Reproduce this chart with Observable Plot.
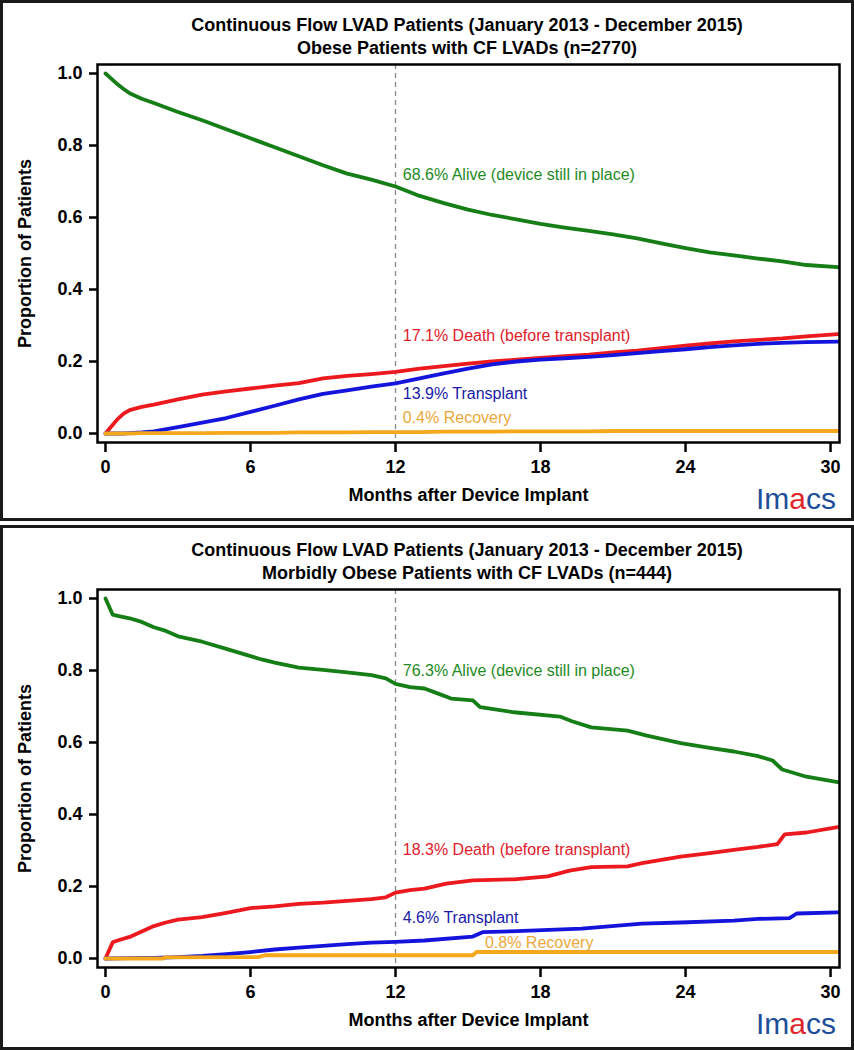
<!DOCTYPE html>
<html><head><meta charset="utf-8">
<script src="https://cdn.jsdelivr.net/npm/d3@7"></script>
<script src="https://cdn.jsdelivr.net/npm/@observablehq/plot@0.6"></script>
<style>
body{margin:0;background:#fff;font-family:"Liberation Sans",Arial,sans-serif;}
#page{position:relative;width:854px;height:1050px;overflow:hidden;background:#fff;}
.panel{position:absolute;left:0;width:854px;box-sizing:border-box;border:3px solid #1a1a1a;}
.title{position:absolute;left:0;width:934px;text-align:center;font-weight:bold;font-size:18px;line-height:23px;color:#000;}
.chart{position:absolute;left:0;}
.logo{position:absolute;right:18px;font-size:30px;line-height:30px;color:#1d4e9a;font-family:"Liberation Sans",Arial,sans-serif;}
.logo .a{color:#e0252b;}
</style>
</head><body>
<div id="page"></div>
<script>
// ---------- data ----------
const xTicks = [0, 6, 12, 18, 24, 30];
const yTicks = [0, 0.2, 0.4, 0.6, 0.8, 1.0];

// Panel 1: Obese patients (n=2770)
const obeseMonths = [0, 0.25, 0.5, 0.75, 1, 1.5, 2, 3, 4, 5, 6, 7, 8, 9, 10, 11, 12, 13, 14, 15, 16, 17, 18, 19, 20, 21, 22, 23, 24, 25, 26, 27, 28, 29, 30.3];
const obeseAlive = [1.0, 0.985, 0.97, 0.957, 0.945, 0.93, 0.918, 0.893, 0.87, 0.845, 0.82, 0.795, 0.77, 0.745, 0.722, 0.705, 0.686, 0.66, 0.64, 0.622, 0.607, 0.595, 0.582, 0.572, 0.563, 0.553, 0.542, 0.528, 0.515, 0.503, 0.495, 0.486, 0.478, 0.468, 0.462];
const obeseDeath = [0, 0.02, 0.04, 0.055, 0.065, 0.074, 0.08, 0.095, 0.108, 0.117, 0.125, 0.133, 0.14, 0.153, 0.16, 0.165, 0.171, 0.18, 0.187, 0.194, 0.2, 0.205, 0.21, 0.215, 0.219, 0.225, 0.23, 0.237, 0.244, 0.25, 0.256, 0.26, 0.264, 0.27, 0.276];
const obeseTransplant = [0, 0, 0, 0, 0.001, 0.003, 0.006, 0.018, 0.03, 0.043, 0.06, 0.077, 0.095, 0.11, 0.12, 0.13, 0.139, 0.153, 0.167, 0.18, 0.192, 0.2, 0.205, 0.209, 0.213, 0.218, 0.223, 0.229, 0.234, 0.24, 0.245, 0.249, 0.252, 0.254, 0.255];
const obeseRecovery = [0, 0, 0, 0, 0, 0.001, 0.001, 0.001, 0.001, 0.002, 0.002, 0.002, 0.003, 0.003, 0.003, 0.004, 0.004, 0.004, 0.005, 0.005, 0.005, 0.006, 0.006, 0.006, 0.006, 0.007, 0.007, 0.007, 0.007, 0.007, 0.007, 0.007, 0.007, 0.007, 0.007];
const obeseLabels = ["68.6% Alive (device still in place)", "17.1% Death (before transplant)", "13.9% Transplant", "0.4% Recovery"];
const obeseLabelY = [0.719, 0.272, 0.111, 0.044];
const obeseLabelX = [12.3, 12.3, 12.3, 12.3];

// Panel 2: Morbidly obese patients (n=444)
const morbidAliveMonths = [0, 0.3, 0.5, 1, 1.5, 2, 2.5, 3, 4, 5, 6, 6.5, 7, 8, 9, 10, 11, 11.6, 12, 12.6, 13.2, 13.6, 14.3, 15.2, 15.5, 16.9, 18.8, 19.3, 20.1, 21.6, 22.4, 23.8, 25, 26, 27, 27.6, 28, 29, 30.3];
const morbidAlive = [1.0, 0.955, 0.952, 0.945, 0.935, 0.92, 0.91, 0.895, 0.88, 0.86, 0.84, 0.83, 0.822, 0.808, 0.802, 0.795, 0.787, 0.778, 0.763, 0.754, 0.75, 0.74, 0.722, 0.717, 0.698, 0.684, 0.672, 0.659, 0.642, 0.633, 0.619, 0.598, 0.585, 0.575, 0.562, 0.55, 0.525, 0.505, 0.49];
const morbidDeathMonths = [0, 0.3, 0.5, 1, 1.5, 2, 2.5, 3, 4, 5, 6, 7, 8, 9, 10, 11, 11.6, 12, 12.6, 13.2, 14.1, 15.2, 16.9, 18.3, 19.2, 20.1, 21.6, 22.2, 23.8, 25, 26, 27, 27.8, 28.1, 29, 30.3];
const morbidDeath = [0, 0.045, 0.05, 0.06, 0.075, 0.09, 0.1, 0.108, 0.115, 0.127, 0.14, 0.145, 0.152, 0.155, 0.16, 0.165, 0.17, 0.183, 0.19, 0.194, 0.208, 0.217, 0.22, 0.228, 0.244, 0.254, 0.256, 0.265, 0.283, 0.293, 0.302, 0.31, 0.318, 0.345, 0.35, 0.365];
const morbidTransplantMonths = [0, 1, 2, 3, 4, 5, 6, 7, 8, 9, 10, 11, 12, 13.2, 15.2, 15.6, 17, 19.7, 22.2, 23.8, 26, 27, 28.3, 28.6, 30.3];
const morbidTransplant = [0, 0.001, 0.002, 0.004, 0.007, 0.012, 0.018, 0.025, 0.03, 0.035, 0.04, 0.044, 0.046, 0.05, 0.061, 0.073, 0.076, 0.083, 0.097, 0.1, 0.105, 0.11, 0.112, 0.125, 0.128];
const morbidRecoveryMonths = [0, 2.4, 2.45, 6.3, 6.6, 15.2, 15.35, 30.3];
const morbidRecovery = [0, 0, 0.003, 0.004, 0.009, 0.009, 0.018, 0.018];
const morbidLabels = ["76.3% Alive (device still in place)", "18.3% Death (before transplant)", "4.6% Transplant", "0.8% Recovery"];
const morbidLabelY = [0.80, 0.303, 0.114, 0.044];
const morbidLabelX = [12.3, 12.3, 12.3, 15.7];

const seriesColors = ["#167e16", "#ec1a1f", "#1414dc", "#f5a81c"];
const textColors = ["#1f8a1f", "#e0202a", "#1a1aa8", "#eba83a"];

// ---------- build ----------
function zip(ms, vs) { return ms.map((m, i) => ({m, v: vs[i]})); }

function makeChart(series, labels, labelX, labelY) {
  const notes = labels.map((t, i) => ({x: labelX[i], y: labelY[i], t, c: textColors[i]}));
  const lineMarks = series.map((s, i) => Plot.line(s, {x: "m", y: "v", stroke: seriesColors[i], strokeWidth: 3.8, strokeLinejoin: "round", clip: true}));
  return Plot.plot({
    width: 854, height: 465,
    marginTop: 8, marginLeft: 97, marginRight: 15, marginBottom: 79,
    style: {fontFamily: "Liberation Sans, Arial, sans-serif", background: "transparent", overflow: "visible", color: "#000"},
    x: {domain: [-0.33, 30.37]},
    y: {domain: [-0.025, 1.025]},
    marks: [
      Plot.ruleX([12], {stroke: "#8a8a8a", strokeWidth: 1.3, strokeDasharray: "5,4"}),
      ...lineMarks,
      Plot.text(notes, {x: "x", y: "y", text: "t", fill: "c", textAnchor: "start", fontSize: 16}),
      Plot.axisX({ticks: xTicks, tickSize: 10, tickPadding: 8, fontSize: 18, fontWeight: "bold", strokeWidth: 2.5, label: null, tickFormat: d => String(d)}),
      Plot.axisY({ticks: yTicks, tickSize: 8, tickPadding: 7, fontSize: 18, fontWeight: "bold", strokeWidth: 2.5, label: null, tickFormat: d3.format(".1f")}),
      Plot.frame({stroke: "#000", strokeWidth: 2.5}),
      Plot.text(["Months after Device Implant"], {frameAnchor: "bottom", dy: 58, fontSize: 18, fontWeight: "bold", fill: "#000"}),
      Plot.text(["Proportion of Patients"], {frameAnchor: "left", textAnchor: "middle", rotate: -90, dx: -72, fontSize: 18, fontWeight: "bold", fill: "#000"})
    ]
  });
}

const page = document.getElementById("page");
function addPanel(top, height, line1, line2, chart) {
  const box = document.createElement("div");
  box.className = "panel"; box.style.top = top + "px"; box.style.height = height + "px";
  page.appendChild(box);
  const t = document.createElement("div");
  t.className = "title"; t.style.top = (top + 14) + "px";
  t.innerHTML = line1 + "<br>" + line2;
  page.appendChild(t);
  const c = document.createElement("div");
  c.className = "chart"; c.style.top = (top + 56) + "px";
  c.appendChild(chart);
  page.appendChild(c);
  const logo = document.createElement("div");
  logo.className = "logo"; logo.style.top = (top + 484) + "px";
  logo.innerHTML = 'Im<span class="a">a</span>cs';
  page.appendChild(logo);
}

const mainTitle = "Continuous Flow LVAD Patients (January 2013 - December 2015)";
addPanel(0, 521, mainTitle, "Obese Patients with CF LVADs (n=2770)",
  makeChart([zip(obeseMonths, obeseAlive), zip(obeseMonths, obeseDeath), zip(obeseMonths, obeseTransplant), zip(obeseMonths, obeseRecovery)],
    obeseLabels, obeseLabelX, obeseLabelY));
addPanel(525, 525, mainTitle, "Morbidly Obese Patients with CF LVADs (n=444)",
  makeChart([zip(morbidAliveMonths, morbidAlive), zip(morbidDeathMonths, morbidDeath), zip(morbidTransplantMonths, morbidTransplant), zip(morbidRecoveryMonths, morbidRecovery)],
    morbidLabels, morbidLabelX, morbidLabelY));
</script>
</body></html>
